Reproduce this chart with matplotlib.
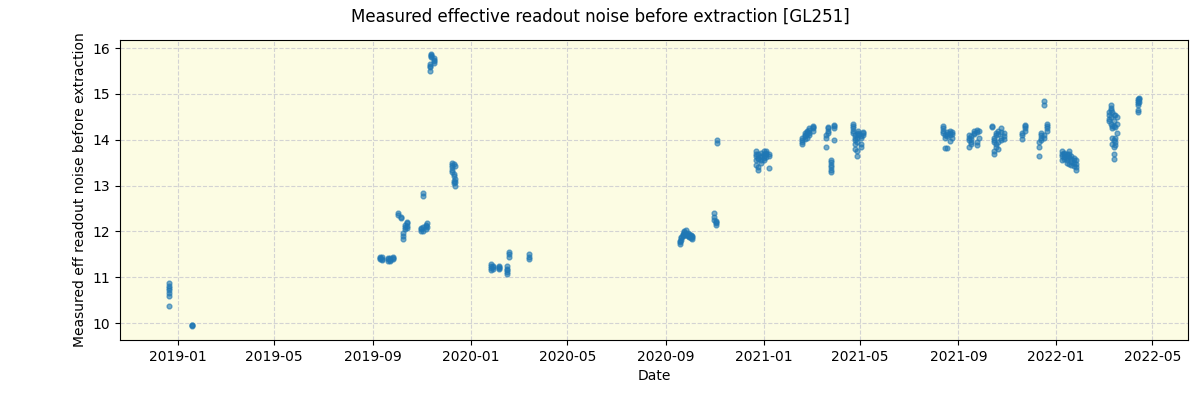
import matplotlib
matplotlib.use("Agg")
import matplotlib.pyplot as plt
import matplotlib.dates as mdates
import numpy as np
import pandas as pd

# observing nights and the readout noise of each frame taken that night
epochs = ["2018-12-20", "2018-12-21", "2019-01-18",
          "2019-09-10", "2019-09-12", "2019-09-20", "2019-09-23", "2019-09-26",
          "2019-10-02", "2019-10-06", "2019-10-09", "2019-10-11", "2019-10-14",
          "2019-10-31", "2019-11-03", "2019-11-06", "2019-11-08",
          "2019-11-12", "2019-11-13", "2019-11-16",
          "2019-12-09", "2019-12-11", "2019-12-13",
          "2020-01-26", "2020-01-29", "2020-02-06", "2020-02-16", "2020-02-18", "2020-03-14",
          "2020-09-18", "2020-09-20", "2020-09-22", "2020-09-24", "2020-09-26",
          "2020-09-28", "2020-09-30", "2020-10-02", "2020-10-04",
          "2020-10-31", "2020-11-02", "2020-11-04",
          "2020-12-22", "2020-12-25", "2020-12-28", "2021-01-01", "2021-01-04", "2021-01-07",
          "2021-02-18", "2021-02-21", "2021-02-24", "2021-02-27", "2021-03-03",
          "2021-03-20", "2021-03-22", "2021-03-26", "2021-03-30",
          "2021-04-23", "2021-04-25", "2021-04-27", "2021-04-29", "2021-05-02", "2021-05-05",
          "2021-08-13", "2021-08-15", "2021-08-18", "2021-08-22", "2021-08-24",
          "2021-09-14", "2021-09-17", "2021-09-20", "2021-09-24", "2021-09-27",
          "2021-10-13", "2021-10-15", "2021-10-18", "2021-10-21", "2021-10-24", "2021-10-28",
          "2021-11-20", "2021-11-23",
          "2021-12-11", "2021-12-13", "2021-12-17", "2021-12-20",
          "2022-01-08", "2022-01-11", "2022-01-14", "2022-01-17", "2022-01-20",
          "2022-01-23", "2022-01-26",
          "2022-03-08", "2022-03-10", "2022-03-12", "2022-03-14", "2022-03-16", "2022-03-18",
          "2022-04-13", "2022-04-15"]

noise = [[10.87, 10.80, 10.76, 10.72, 10.66, 10.60], [10.38], [9.93, 9.95, 9.97],
         [11.42, 11.45, 11.40], [11.38, 11.44, 11.41], [11.40, 11.43, 11.36],
         [11.35, 11.38, 11.42], [11.45, 11.40, 11.43],
         [12.40, 12.36], [12.32, 12.29], [11.84, 11.90, 11.97], [12.05, 12.10, 12.15],
         [12.18, 12.20, 12.12, 12.08],
         [12.05, 12.08, 12.02], [12.78, 12.85, 12.00, 12.10], [12.12, 12.15, 12.05], [12.18, 12.10],
         [15.50, 15.58, 15.62, 15.65], [15.82, 15.88, 15.85, 15.80], [15.78, 15.72, 15.75, 15.68],
         [13.50, 13.45, 13.40, 13.35, 13.30], [13.48, 13.25, 13.20, 13.10, 13.05],
         [13.42, 13.15, 13.00, 13.08],
         [11.30, 11.25, 11.20, 11.15], [11.22, 11.18, 11.25], [11.25, 11.20, 11.22, 11.18],
         [11.25, 11.18, 11.12, 11.08, 11.15], [11.45, 11.50, 11.55], [11.50, 11.45, 11.40],
         [11.72, 11.76, 11.80], [11.82, 11.88, 11.85], [11.90, 11.95, 11.93],
         [11.92, 12.00, 11.98, 11.94], [12.03, 11.95, 11.92],
         [11.90, 11.92, 11.96], [11.88, 11.95, 11.91], [11.85, 11.92, 11.90], [11.90, 11.88, 11.83],
         [12.40, 12.32, 12.25], [12.20, 12.18, 12.22, 12.15], [14.00, 13.92],
         [13.55, 13.65, 13.70, 13.75, 13.45], [13.60, 13.58, 13.68, 13.40, 13.35],
         [13.62, 13.72, 13.55, 13.50, 13.65], [13.70, 13.75, 13.60, 13.55, 13.65],
         [13.68, 13.72, 13.62, 13.75], [13.38, 13.70, 13.65],
         [13.90, 13.95, 14.00, 14.05], [14.10, 14.15, 14.02, 14.08], [14.12, 14.18, 14.20, 14.05],
         [14.15, 14.22, 14.25, 14.10], [14.25, 14.28, 14.30, 14.20],
         [13.85, 14.05, 14.10], [14.15, 14.20, 14.25, 14.28],
         [13.30, 13.35, 13.40, 13.45, 13.52, 13.55], [14.30, 14.25, 14.00, 14.32],
         [14.35, 14.30, 14.25, 14.20, 14.15], [14.10, 14.05, 14.00, 13.90, 13.80],
         [13.65, 13.75, 13.95, 14.05], [14.10, 14.15, 14.20, 14.12],
         [14.05, 14.08, 13.90, 13.85], [14.15, 14.10, 14.18],
         [14.30, 14.25, 14.20, 14.15], [14.10, 14.05, 13.82], [14.18, 14.12, 14.08, 13.82],
         [14.20, 14.15, 14.10, 13.98], [14.05, 14.12, 14.18],
         [13.85, 14.00, 14.05, 14.10], [14.08, 13.95, 13.90, 14.02], [14.12, 14.15, 14.20],
         [14.22, 14.18, 13.88, 13.95], [14.20, 14.05],
         [14.30, 14.28], [14.05, 14.00, 13.95, 13.75, 13.68], [14.10, 14.15, 13.90, 13.85],
         [14.20, 14.12, 13.80, 13.95], [14.18, 14.25, 14.05, 14.00], [14.15, 14.02, 14.08],
         [14.02, 14.10, 14.15], [14.20, 14.25, 14.30, 14.32],
         [13.65, 13.85, 13.95], [14.00, 14.05, 14.10, 14.15], [14.85, 14.75, 14.05, 14.10],
         [14.35, 14.30, 14.25, 14.20],
         [13.75, 13.70, 13.65, 13.55], [13.72, 13.68, 13.62, 13.58],
         [13.70, 13.65, 13.60, 13.55, 13.50], [13.75, 13.68, 13.62, 13.48],
         [13.65, 13.58, 13.52, 13.45], [13.60, 13.55, 13.50, 13.42], [13.55, 13.48, 13.40, 13.35],
         [14.60, 14.55, 14.45, 14.40], [14.70, 14.75, 14.65, 14.50, 14.35],
         [14.60, 14.30, 14.25, 14.05, 13.90], [14.55, 14.40, 14.30, 14.00, 13.85, 13.70, 13.58],
         [14.55, 14.28, 14.05, 13.88, 13.95], [14.50, 14.35, 14.15],
         [14.90, 14.85, 14.80, 14.75, 14.65, 14.60], [14.92, 14.88, 14.82]]

dates = []
vals = []
for d, v in zip(epochs, noise):
    dates += [pd.Timestamp(d)] * len(v)
    vals += v

fig = plt.figure(figsize=(12, 4), dpi=100)
ax = fig.add_axes([0.1, 0.15, 0.89, 0.75])
ax.set_facecolor("#fcfce3")
ax.scatter(dates, vals, s=12, alpha=0.6, color="tab:blue", zorder=3)
ax.grid(True, linestyle="--", color="lightgray", zorder=0)
ax.set_axisbelow(True)

ax.xaxis.set_major_locator(mdates.MonthLocator(bymonth=[1, 5, 9]))
ax.xaxis.set_major_formatter(mdates.DateFormatter("%Y-%m"))
ax.set_xlabel("Date")
ax.set_ylabel("Measured eff readout noise before extraction")
fig.suptitle("Measured effective readout noise before extraction [GL251]")

fig.savefig("out.png")
